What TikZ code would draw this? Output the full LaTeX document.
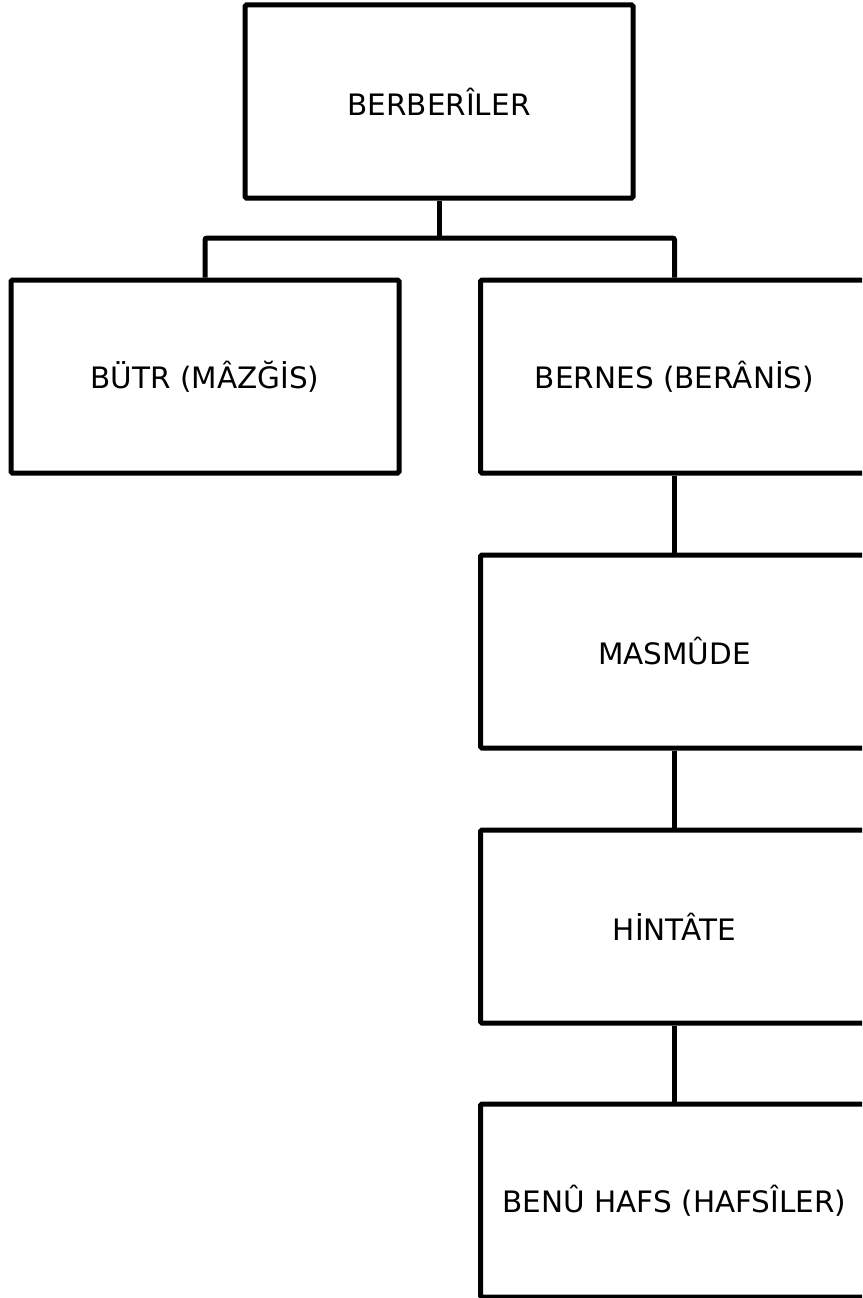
\documentclass[tikz,border=0pt]{standalone}
\usepackage{fontspec}
\setmainfont{DejaVu Sans}
\begin{document}
\begin{tikzpicture}[x=1pt,y=-1pt,
  orgbox/.style={draw=black, line width=5pt, rounded corners=1.5pt, fill=white,
    minimum width=388pt, minimum height=193pt, inner sep=0pt,
    font=\fontsize{29.5}{35}\selectfont},
  link/.style={draw=black, line width=5pt, rounded corners=2pt}]
\useasboundingbox (0,0) rectangle (862,1298);
\clip (0,0) rectangle (862,1298);
\fill[white] (0,0) rectangle (862,1298);
\node[orgbox] (top) at (439,101.5) {BERBERÎLER};
\node[orgbox] (left) at (205,376.5) {BÜTR (MÂZĞİS)};
\node[orgbox] (r1) at (674.5,376.5) {BERNES (BERÂNİS)};
\node[orgbox] (r2) at (674.5,651.5) {MASMÛDE};
\node[orgbox] (r3) at (674.5,926.5) {HİNTÂTE};
\node[orgbox] (r4) at (674.5,1200.5) {BENÛ HAFS (HAFSÎLER)};
\coordinate (bus) at (439,238);
\draw[link] (top.south) -- (bus);
\draw[link] (left.north) |- (bus) -| (r1.north);
\draw[link] (r1.south) -- (r2.north);
\draw[link] (r2.south) -- (r3.north);
\draw[link] (r3.south) -- (r4.north);
\end{tikzpicture}
\end{document}
